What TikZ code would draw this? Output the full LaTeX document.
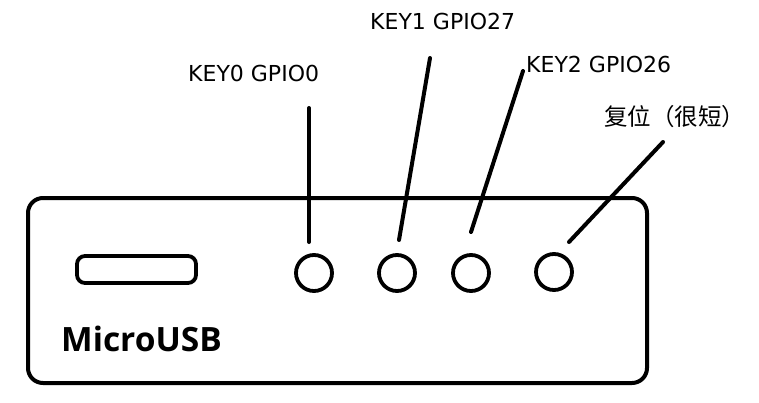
\documentclass[tikz,border=0pt]{standalone}
\usepackage{fontspec}
\setmainfont{Open Sans}
\newfontfamily\lblfont{DejaVu Sans}
\newfontfamily\cjk{Noto Sans CJK SC}
\begin{document}
\begin{tikzpicture}[x=1pt,y=-1pt,
  btn/.style={circle, draw, line width=3.8pt, minimum size=36pt, inner sep=0pt},
  lbl/.style={font=\lblfont\fontsize{22}{22}\selectfont, inner sep=0pt, anchor=base west},
  lead/.style={line width=4pt, line cap=round}]
\useasboundingbox (0,0) rectangle (759,402);
\draw[line width=4pt, rounded corners=15pt] (28,198) rectangle (647,383);
\draw[line width=3.8pt, rounded corners=8pt] (77,256) rectangle (196,283);
\node[font=\bfseries\fontsize{33.5}{33.5}\selectfont, inner sep=0pt, anchor=base west] (usb) at (61,351) {MicroUSB};
\node[btn] (b0) at (314,273) {};
\node[btn] (b1) at (397,273) {};
\node[btn] (b2) at (471,273) {};
\node[btn] (b3) at (554,272) {};
\node[lbl] (k0) at (188,81) {KEY0 GPIO0};
\node[lbl] (k1) at (370,29) {KEY1 GPIO27};
\node[lbl] (k2) at (526,72) {KEY2 GPIO26};
\node[font=\cjk\fontsize{23.5}{23.5}\selectfont, inner sep=0pt, anchor=west] (rst) at (604,117) {复位（很短）};
\coordinate (t0) at (309,108); \coordinate (e0) at (309,242);
\coordinate (t1) at (430,58);  \coordinate (e1) at (399,240);
\coordinate (t2) at (523,71);  \coordinate (e2) at (471,232);
\coordinate (t3) at (663,142); \coordinate (e3) at (569,242);
\draw[lead] (t0) -- (e0);
\draw[lead] (t1) -- (e1);
\draw[lead] (t2) -- (e2);
\draw[lead] (t3) -- (e3);
\end{tikzpicture}
\end{document}
